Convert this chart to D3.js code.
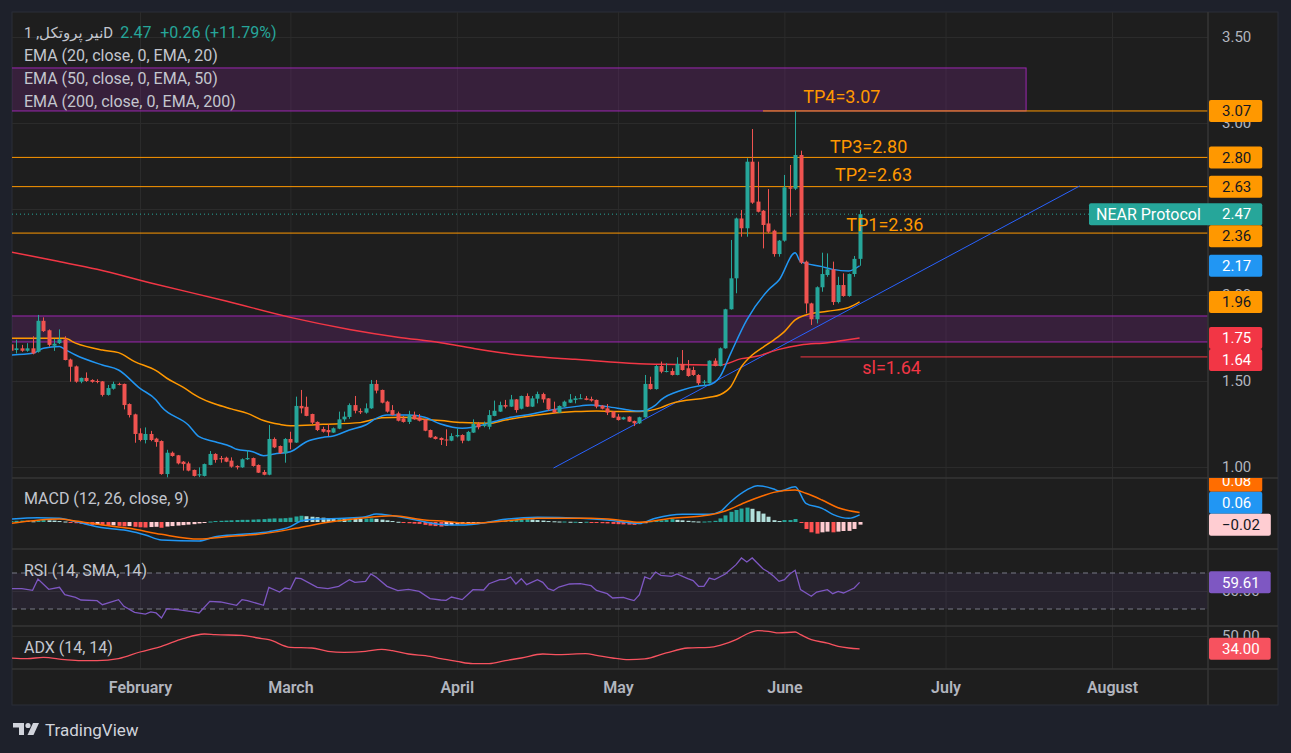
<!DOCTYPE html>
<html>
<head>
<meta charset="utf-8">
<title>NEAR Protocol 1D</title>
<script src="https://d3js.org/d3.v7.min.js"></script>
<style>
    body { margin: 0; background: #1e212b; }
    text { font-family: Roboto, "DejaVu Sans", sans-serif; }
</style>
</head>
<body>
<div id="chart"></div>
<script>
// Daily candles, first one on Jan 8
var firstDay = "2023-01-08";

var opens = [1.713,1.68,1.69,1.676,1.69,1.67,1.85,1.795,1.705,1.72,
    1.742,1.625,1.585,1.496,1.518,1.506,1.50,1.498,1.419,1.455,
    1.483,1.483,1.366,1.306,1.196,1.157,1.192,1.165,1.151,0.959,
    1.083,1.068,1.031,1.021,0.983,0.951,0.948,1.012,1.076,1.052,
    1.054,1.037,1.006,0.998,1.045,1.052,1.012,0.971,0.955,1.163,
    1.122,1.080,1.163,1.142,1.355,1.35,1.308,1.262,1.221,1.215,
    1.20,1.223,1.277,1.291,1.36,1.325,1.316,1.341,1.483,1.448,
    1.38,1.331,1.312,1.283,1.262,1.302,1.289,1.277,1.215,1.176,
    1.169,1.16,1.153,1.178,1.186,1.153,1.20,1.25,1.238,1.234,
    1.297,1.322,1.36,1.351,1.393,1.339,1.413,1.351,1.397,1.424,
    1.399,1.335,1.316,1.351,1.374,1.39,1.397,1.399,1.395,1.39,
    1.357,1.341,1.322,1.293,1.277,1.293,1.267,1.254,1.289,1.483,
    1.453,1.587,1.554,1.558,1.535,1.599,1.574,1.564,1.535,1.49,
    1.487,1.618,1.587,1.690,1.917,2.097,2.445,2.388,2.775,2.543,
    2.49,2.416,2.374,2.238,2.316,2.626,2.618,2.814,2.194,1.951,
    1.859,2.045,2.116,2.149,1.959,2.058,1.994,2.122,2.21];
var highs = [1.72,1.74,1.71,1.72,1.76,1.884,1.87,1.80,1.745,1.80,
    1.76,1.63,1.59,1.52,1.55,1.51,1.51,1.50,1.477,1.496,
    1.49,1.485,1.37,1.31,1.225,1.23,1.21,1.17,1.155,1.10,
    1.09,1.07,1.035,1.031,0.985,0.998,1.02,1.093,1.08,1.064,
    1.06,1.056,1.01,1.05,1.099,1.055,1.015,0.983,1.244,1.172,
    1.125,1.168,1.205,1.409,1.448,1.409,1.31,1.265,1.234,1.25,
    1.23,1.322,1.322,1.37,1.413,1.341,1.37,1.506,1.506,1.45,
    1.385,1.36,1.322,1.297,1.327,1.322,1.308,1.28,1.218,1.18,
    1.172,1.219,1.196,1.225,1.19,1.21,1.277,1.262,1.264,1.331,
    1.386,1.38,1.39,1.419,1.395,1.415,1.428,1.413,1.438,1.432,
    1.40,1.38,1.358,1.386,1.424,1.413,1.424,1.413,1.409,1.392,
    1.36,1.366,1.325,1.308,1.292,1.295,1.27,1.292,1.535,1.525,
    1.593,1.613,1.603,1.574,1.638,1.68,1.622,1.583,1.54,1.506,
    1.62,1.632,1.695,1.92,2.32,2.45,2.494,2.795,2.965,2.775,
    2.494,2.616,2.38,2.32,2.698,2.756,3.07,2.839,2.20,1.955,
    2.05,2.246,2.242,2.194,2.106,2.126,2.125,2.227,2.494];
var lows = [1.67,1.66,1.67,1.67,1.655,1.665,1.785,1.70,1.675,1.715,
    1.62,1.496,1.49,1.487,1.495,1.49,1.487,1.41,1.415,1.45,
    1.475,1.335,1.288,1.141,1.149,1.137,1.15,1.118,0.955,0.934,
    1.06,1.015,0.979,0.975,0.945,0.94,0.945,1.01,1.025,1.025,
    1.028,0.996,0.986,0.995,1.041,1.002,0.965,0.952,0.952,1.11,
    1.076,1.025,1.103,1.14,1.312,1.295,1.25,1.209,1.20,1.18,
    1.198,1.22,1.264,1.28,1.312,1.308,1.31,1.338,1.428,1.37,
    1.316,1.30,1.265,1.258,1.25,1.275,1.265,1.208,1.17,1.16,
    1.128,1.122,1.15,1.172,1.138,1.15,1.198,1.219,1.231,1.219,
    1.295,1.32,1.341,1.349,1.316,1.335,1.349,1.349,1.37,1.374,
    1.327,1.314,1.314,1.349,1.372,1.37,1.395,1.388,1.38,1.341,
    1.335,1.302,1.285,1.27,1.275,1.262,1.238,1.25,1.287,1.45,
    1.45,1.545,1.55,1.532,1.533,1.56,1.525,1.53,1.477,1.471,
    1.485,1.585,1.585,1.688,1.915,2.01,2.339,2.339,2.53,2.48,
    2.271,2.36,2.223,2.223,2.31,2.455,2.61,2.18,1.893,1.826,
    1.835,2.019,2.106,1.942,1.951,1.99,1.99,2.106,2.17];
var closes = [1.676,1.69,1.676,1.69,1.66,1.85,1.79,1.71,1.717,1.742,
    1.622,1.583,1.496,1.518,1.50,1.495,1.497,1.419,1.459,1.483,
    1.48,1.36,1.302,1.192,1.157,1.192,1.157,1.145,0.959,1.083,
    1.064,1.021,1.017,0.979,0.948,0.958,1.017,1.076,1.041,1.045,
    1.031,1.002,0.998,1.045,1.052,1.006,0.967,0.955,1.163,1.114,
    1.080,1.163,1.142,1.355,1.341,1.297,1.258,1.215,1.205,1.202,
    1.225,1.277,1.293,1.36,1.327,1.318,1.341,1.483,1.444,1.374,
    1.322,1.302,1.269,1.262,1.302,1.277,1.269,1.211,1.172,1.163,
    1.157,1.157,1.18,1.186,1.153,1.204,1.25,1.231,1.244,1.302,
    1.327,1.36,1.351,1.393,1.331,1.413,1.351,1.399,1.424,1.393,
    1.335,1.316,1.355,1.38,1.393,1.399,1.40,1.39,1.386,1.351,
    1.339,1.316,1.287,1.273,1.289,1.264,1.254,1.289,1.483,1.453,
    1.587,1.554,1.558,1.535,1.599,1.564,1.529,1.535,1.487,1.496,
    1.618,1.587,1.690,1.917,2.097,2.445,2.388,2.775,2.537,2.484,
    2.407,2.368,2.238,2.316,2.626,2.618,2.814,2.188,1.951,1.859,
    2.045,2.122,2.149,1.959,2.058,1.994,2.122,2.21,2.47];

// Moving averages: [day index, value]
var ema20 = [[0,1.651],[4,1.661],[6,1.69],[9,1.70],[10,1.684],[12,1.651],[17,1.593],[20,1.564],
    [24,1.457],[27,1.39],[28,1.35],[33,1.244],[35,1.176],[38,1.147],[41,1.118],[42,1.103],
    [45,1.089],[47,1.066],[49,1.076],[52,1.089],[55,1.147],[58,1.172],[60,1.18],[63,1.215],
    [66,1.244],[68,1.283],[70,1.302],[74,1.302],[77,1.289],[80,1.25],[84,1.225],[86,1.231],
    [90,1.264],[93,1.289],[97,1.308],[100,1.328],[105,1.351],[108,1.36],[111,1.351],[115,1.331],
    [117,1.325],[120,1.36],[121,1.39],[125,1.448],[128,1.471],[130,1.477],[132,1.525],
    [134,1.661],[137,1.855],[141,2.029],[143,2.087],[146,2.246],[147,2.194],[151,2.165],
    [153,2.149],[156,2.14],[158,2.17]];
var ema50 = [[0,1.748],[10,1.748],[12,1.72],[17,1.68],[20,1.665],[23,1.613],[27,1.56],[29,1.516],
    [32,1.464],[35,1.405],[38,1.366],[41,1.338],[44,1.312],[47,1.27],[50,1.248],[52,1.24],
    [58,1.248],[65,1.258],[67,1.273],[69,1.287],[73,1.289],[77,1.277],[80,1.27],[84,1.258],
    [89,1.254],[92,1.273],[98,1.302],[105,1.322],[109,1.326],[114,1.322],[117,1.322],
    [121,1.345],[123,1.37],[130,1.405],[132,1.42],[134,1.467],[136,1.583],[138,1.651],
    [140,1.696],[142,1.738],[144,1.787],[146,1.855],[148,1.884],[152,1.905],[156,1.928],[158,1.96]];
var ema200 = [[0,2.25],[8,2.20],[16,2.15],[26,2.07],[40,1.965],[52,1.87],[63,1.80],[72,1.755],
    [80,1.723],[86,1.69],[92,1.661],[98,1.641],[105,1.626],[111,1.612],[117,1.60],[121,1.597],
    [132,1.593],[136,1.63],[139,1.645],[143,1.684],[147,1.709],[152,1.723],[158,1.75]];

// MACD (12, 26, close, 9)
var macdHist = [0.008,0.010,0.012,0.010,0.006,0.012,0.016,0.014,0.012,0.008,0.004,
    -0.004,-0.010,-0.016,-0.020,-0.024,-0.022,
    -0.026,-0.030,-0.028,-0.032,-0.036,-0.034,
    -0.040,-0.044,-0.046,-0.042,-0.040,-0.048,
    -0.038,-0.034,-0.030,-0.026,-0.022,-0.018,-0.012,-0.006,
    0.004,0.008,0.010,0.012,0.014,0.016,0.018,0.018,0.020,0.022,0.024,
    0.028,0.030,0.030,0.032,0.036,0.046,0.052,0.048,
    0.044,0.040,0.036,0.032,0.030,0.030,0.028,0.030,0.028,0.026,0.028,0.030,0.026,0.020,0.014,
    0.008,0.002,-0.004,-0.010,-0.014,-0.016,-0.024,-0.030,-0.034,-0.038,-0.030,-0.026,
    -0.020,-0.016,-0.012,-0.010,-0.006,-0.002,
    0.004,0.008,0.010,0.012,0.014,0.016,0.020,0.024,0.020,0.016,
    0.012,0.008,0.006,0.004,0.004,0.002,0.002,0.000,0.002,
    -0.004,-0.006,-0.010,-0.012,-0.016,-0.018,-0.020,-0.022,-0.024,-0.018,
    -0.010,
    0.006,0.010,0.014,0.018,0.024,0.018,0.014,0.010,0.006,0.004,0.004,0.006,0.010,
    0.030,0.055,0.085,0.100,0.112,0.120,
    0.110,0.090,0.070,0.044,0.015,
    0.008,0.016,0.016,0.025,
    -0.008,
    -0.058,-0.086,-0.097,-0.086,-0.080,-0.086,-0.080,-0.075,-0.074,-0.058,-0.022];
var macdLine = [[0,0.025],[5,0.036],[9,0.031],[12,0.003],[16,-0.039],[18,-0.053],[22,-0.075],
    [25,-0.108],[28,-0.15],[35,-0.158],[38,-0.122],[43,-0.103],[48,-0.081],[52,-0.039],[54,0.008],
    [57,0.025],[62,0.031],[66,0.044],[68,0.067],[71,0.053],[77,0.003],[80,-0.02],[84,-0.025],
    [87,-0.014],[92,0.022],[98,0.039],[106,0.031],[111,0.017],[117,-0.011],[120,0.031],[125,0.064],
    [130,0.064],[132,0.086],[134,0.169],[137,0.267],[139,0.303],[142,0.275],[143,0.258],[146,0.294],
    [148,0.156],[151,0.114],[153,0.064],[156,0.031],[158,0.06]];
var signalLine = [[0,-0.011],[9,0.025],[12,0.008],[17,-0.025],[22,-0.053],[28,-0.103],[35,-0.142],
    [40,-0.122],[46,-0.103],[53,-0.053],[59,-0.003],[65,0.031],[71,0.053],[77,0.017],[81,0.005],
    [85,-0.011],[92,0.008],[98,0.031],[108,0.031],[113,0.017],[117,-0.003],[123,0.031],[130,0.058],
    [133,0.092],[137,0.169],[140,0.219],[142,0.247],[146,0.267],[148,0.239],[151,0.183],[154,0.119],
    [158,0.08]];

// RSI (14, SMA, 14)
var rsi = [[0,52.6],[2,52.6],[4,50.7],[5,63.3],[7,51.9],[9,54.1],[10,45.9],[12,43],[13,40],[16,39.3],
    [17,34.8],[20,40.4],[21,33],[23,26.3],[25,24.4],[26,26.7],[27,25.6],[28,20],[29,30.4],[31,29.3],
    [34,26.7],[35,25.6],[37,38.5],[39,37.8],[42,34.1],[43,40.4],[44,39.3],[47,34.1],[48,54.1],
    [50,48.9],[51,53.3],[52,52.2],[53,64.4],[54,63.7],[57,54.1],[59,52.6],[61,55.2],[62,58.9],
    [63,62.6],[64,59.6],[66,60.7],[67,68.9],[68,65.2],[70,55.2],[72,50.4],[74,51.9],[76,49.6],
    [78,41.5],[80,40],[81,39.6],[82,43.3],[84,40.4],[86,51.5],[88,51.1],[89,58.1],[91,62.6],
    [92,62.6],[93,65.6],[94,57.8],[95,63.7],[96,57],[98,62.6],[99,59.6],[100,52.6],[101,50.4],
    [102,54.4],[104,57.8],[106,58.1],[108,55.9],[109,50.7],[111,47],[112,42.2],[114,43],[115,41.1],
    [116,39.3],[117,45.9],[118,65.6],[119,63.3],[120,71.1],[121,67.4],[123,66.3],[124,68.9],
    [126,63.7],[127,61.5],[128,55.2],[129,55.2],[130,64.4],[131,62.6],[133,68.9],[135,79.3],
    [136,86.7],[137,82.2],[138,86.7],[140,74.8],[141,71.1],[142,66.3],[143,60.7],[144,62.6],
    [145,68.9],[146,73],[147,51.5],[149,44.1],[150,48.9],[152,51.5],[153,47],[154,49.6],[155,47.8],
    [157,53.3],[158,59.61]];

// ADX (14, 14)
var adx = [[0,22.5],[3,21.7],[6,23.3],[10,20.4],[13,19.2],[16,19.2],[20,21.7],[24,30],[28,37.1],
    [32,46.7],[36,52.5],[38,51.7],[43,50.8],[46,47.5],[48,45.4],[52,35.8],[56,35],[59,30.8],
    [62,29.6],[66,30.8],[69,33.3],[71,31.7],[74,27.5],[78,24.6],[80,21.7],[83,18.3],[86,15.4],
    [89,15.4],[92,19.2],[95,22.5],[99,27.5],[102,26.7],[107,27.9],[109,25.8],[112,22.5],[115,20.4],
    [118,21.3],[122,28.8],[126,35],[130,35.8],[132,38.3],[135,45.4],[137,52.5],[139,56.7],
    [141,55.8],[143,53.8],[146,55],[147,51.7],[149,45.4],[152,41.2],[154,37.1],[156,35],[158,34.0]];

// Levels and drawings
var months = ["2023-02-01","2023-03-01","2023-04-01","2023-05-01","2023-06-01","2023-07-01","2023-08-01"];
var priceGrid = [1, 1.5, 2, 2.5, 3, 3.5];
var priceTicks = [1, 1.5, 2, 3, 3.5];   // 2.50 sits under the last-price label
var targets = [
    {name: "TP4", price: 3.07, from: 140, textDay: 147.5, dy: -8},
    {name: "TP3", price: 2.80, from: -5, textDay: 152.5, dy: -4},
    {name: "TP2", price: 2.63, from: -5, textDay: 153.4, dy: -6},
    {name: "TP1", price: 2.36, from: -5, textDay: 155.5, dy: -2}
];
var stopLoss = {name: "sl", price: 1.64, from: 147, textDay: 158.5, dy: 17};
var zones = [
    {from: -5, to: 189, low: 3.07, high: 3.32},
    {from: -5, to: 260, low: 1.727, high: 1.878}
];
var trendLine = [[101, 0.994], [199, 2.634]];

// Colours
var upColor = "#26a69a", downColor = "#ef5350";
var orange = "#ff9800", blue = "#2196f3", red = "#f23645";
var axisText = "#b2b5be", legendText = "#c3c6ce";

// Layout
var W = 1291, H = 753;
var left = 12, right = 1208, axisEnd = 1278;
var mainPane = [12, 478], macdPane = [478, 549], rsiPane = [549, 626], adxPane = [626, 669];
var timeBottom = 705;

var parseDay = d3.utcParse("%Y-%m-%d");
var start = parseDay(firstDay);
function dayOf(i) { return new Date(start.getTime() + i * 864e5); }

var x = d3.scaleUtc()
    .domain([parseDay("2023-02-01"), parseDay("2023-08-01")])
    .range([140, 1112]);
var yPrice = d3.scaleLinear().domain([1, 3.5]).range([467, 37]);
var yMacd = d3.scaleLinear().domain([0, 0.1]).range([522, 510]);
var yRsi = d3.scaleLinear().domain([30, 70]).range([609, 573]);
var yAdx = d3.scaleLinear().domain([0, 50]).range([676, 636]);

var candles = closes.map(function(c, i) {
    return {date: dayOf(i), o: opens[i], h: highs[i], l: lows[i], c: c};
});

var svg = d3.select("#chart").append("svg")
    .attr("width", W).attr("height", H);

svg.append("rect").attr("width", W).attr("height", H).attr("fill", "#1e212b");
svg.append("rect").attr("x", left).attr("y", 12)
    .attr("width", axisEnd - left).attr("height", timeBottom - 12)
    .attr("fill", "#1e1e1e").attr("stroke", "#2a2e39");

var defs = svg.append("defs");
function addClip(id, x0, y0, x1, y1) {
    defs.append("clipPath").attr("id", id).append("rect")
        .attr("x", x0).attr("y", y0).attr("width", x1 - x0).attr("height", y1 - y0);
}
addClip("clip-main", left, mainPane[0], right, mainPane[1]);
addClip("clip-macd", left, macdPane[0], right, macdPane[1]);
addClip("clip-rsi", left, rsiPane[0], right, rsiPane[1]);
addClip("clip-adx", left, adxPane[0], right, adxPane[1]);
addClip("clip-main-axis", left, mainPane[0], axisEnd, mainPane[1]);
addClip("clip-macd-axis", right, macdPane[0], axisEnd, macdPane[1]);
addClip("clip-rsi-axis", right, rsiPane[0], axisEnd, rsiPane[1]);
addClip("clip-adx-axis", right, adxPane[0], axisEnd, adxPane[1]);

// Grid
var gridColor = "#2b2b2b";
var monthDates = months.map(parseDay);
svg.append("g")
    .attr("transform", "translate(0," + adxPane[1] + ")")
    .call(d3.axisBottom(x).tickValues(monthDates).tickSize(-(adxPane[1] - 12)).tickFormat(""))
    .call(function(g) { g.select(".domain").remove(); })
    .selectAll("line").attr("stroke", gridColor);

svg.append("g")
    .attr("transform", "translate(" + left + ",0)")
    .call(d3.axisRight(yPrice).tickValues(priceGrid).tickSize(right - left).tickFormat(""))
    .call(function(g) { g.select(".domain").remove(); })
    .selectAll("line").attr("stroke", gridColor);

svg.append("g")
    .attr("transform", "translate(" + left + ",0)")
    .call(d3.axisRight(yRsi).tickValues([50]).tickSize(right - left).tickFormat(""))
    .call(function(g) { g.select(".domain").remove(); })
    .selectAll("line").attr("stroke", gridColor);

svg.append("g")
    .attr("transform", "translate(" + left + ",0)")
    .call(d3.axisRight(yAdx).tickValues([50]).tickSize(right - left).tickFormat(""))
    .call(function(g) { g.select(".domain").remove(); })
    .selectAll("line").attr("stroke", gridColor);

// ---------- Main pane ----------
var main = svg.append("g").attr("clip-path", "url(#clip-main)");

main.selectAll(".zone").data(zones).join("rect")
    .attr("x", function(d) { return x(dayOf(d.from)); })
    .attr("width", function(d) { return x(dayOf(d.to)) - x(dayOf(d.from)); })
    .attr("y", function(d) { return yPrice(d.high); })
    .attr("height", function(d) { return yPrice(d.low) - yPrice(d.high); })
    .attr("fill", "rgba(156, 39, 176, 0.2)")
    .attr("stroke", "#9c27b0")
    .attr("stroke-width", 1);

// target lines
main.selectAll(".tp").data(targets).join("line")
    .attr("x1", function(d) { return x(dayOf(d.from)); })
    .attr("x2", right)
    .attr("y1", function(d) { return yPrice(d.price); })
    .attr("y2", function(d) { return yPrice(d.price); })
    .attr("stroke", orange).attr("stroke-width", 1);

main.append("line")
    .attr("x1", x(dayOf(stopLoss.from))).attr("x2", right)
    .attr("y1", yPrice(stopLoss.price)).attr("y2", yPrice(stopLoss.price))
    .attr("stroke", red).attr("stroke-width", 1);

// last price dotted line
main.append("line")
    .attr("x1", left).attr("x2", 1089)
    .attr("y1", yPrice(closes[closes.length - 1])).attr("y2", yPrice(closes[closes.length - 1]))
    .attr("stroke", upColor).attr("stroke-dasharray", "1,3");

// trend line
main.append("line")
    .attr("x1", x(dayOf(trendLine[0][0]))).attr("y1", yPrice(trendLine[0][1]))
    .attr("x2", x(dayOf(trendLine[1][0]))).attr("y2", yPrice(trendLine[1][1]))
    .attr("stroke", "#2962ff").attr("stroke-width", 1);

// EMAs
var priceLine = d3.line()
    .x(function(d) { return x(dayOf(d[0])); })
    .y(function(d) { return yPrice(d[1]); })
    .curve(d3.curveMonotoneX);

main.append("path").datum(ema200).attr("d", priceLine)
    .attr("fill", "none").attr("stroke", red).attr("stroke-width", 1.5);
main.append("path").datum(ema50).attr("d", priceLine)
    .attr("fill", "none").attr("stroke", orange).attr("stroke-width", 1.5);
main.append("path").datum(ema20).attr("d", priceLine)
    .attr("fill", "none").attr("stroke", blue).attr("stroke-width", 1.5);

// candles
function candleColor(d) { return d.c >= d.o ? upColor : downColor; }
main.selectAll(".wick").data(candles).join("line")
    .attr("x1", function(d) { return Math.round(x(d.date)) + 0.5; })
    .attr("x2", function(d) { return Math.round(x(d.date)) + 0.5; })
    .attr("y1", function(d) { return yPrice(d.h); })
    .attr("y2", function(d) { return yPrice(d.l); })
    .attr("stroke", candleColor);
main.selectAll(".body").data(candles).join("rect")
    .attr("x", function(d) { return Math.round(x(d.date)) - 1.5; })
    .attr("width", 4)
    .attr("y", function(d) { return yPrice(Math.max(d.o, d.c)); })
    .attr("height", function(d) { return Math.max(1, Math.abs(yPrice(d.o) - yPrice(d.c))); })
    .attr("fill", candleColor);

// target texts
var notes = targets.concat([stopLoss]);
main.selectAll(".note").data(notes).join("text")
    .attr("x", function(d) { return x(dayOf(d.textDay)); })
    .attr("y", function(d) { return yPrice(d.price) + d.dy; })
    .attr("fill", function(d) { return d.name === "sl" ? red : orange; })
    .attr("font-size", 18)
    .text(function(d) { return d.name + "=" + d.price.toFixed(2); });

// ---------- MACD pane ----------
var macdG = svg.append("g").attr("clip-path", "url(#clip-macd)");
macdG.selectAll(".hist").data(macdHist).join("rect")
    .attr("x", function(d, i) { return Math.round(x(dayOf(i))) - 1.5; })
    .attr("width", 4)
    .attr("y", function(d) { return Math.min(yMacd(d), yMacd(0)); })
    .attr("height", function(d) { return Math.max(1, Math.abs(yMacd(d) - yMacd(0))); })
    .attr("fill", function(d, i) {
        var prev = i > 0 ? macdHist[i - 1] : d;
        if (d >= 0) return d >= prev ? "#26a69a" : "#b2dfdb";
        return d <= prev ? "#ff5252" : "#ffcdd2";
    });

var macdPath = d3.line()
    .x(function(d) { return x(dayOf(d[0])); })
    .y(function(d) { return yMacd(d[1]); })
    .curve(d3.curveMonotoneX);
macdG.append("path").datum(macdLine).attr("d", macdPath)
    .attr("fill", "none").attr("stroke", blue).attr("stroke-width", 1.5);
macdG.append("path").datum(signalLine).attr("d", macdPath)
    .attr("fill", "none").attr("stroke", "#ff6d00").attr("stroke-width", 1.5);

// ---------- RSI pane ----------
var rsiG = svg.append("g").attr("clip-path", "url(#clip-rsi)");
rsiG.append("rect")
    .attr("x", left).attr("width", right - left)
    .attr("y", yRsi(70)).attr("height", yRsi(30) - yRsi(70))
    .attr("fill", "rgba(126, 87, 194, 0.1)");
rsiG.selectAll(".band").data([70, 30]).join("line")
    .attr("x1", left).attr("x2", right)
    .attr("y1", function(d) { return yRsi(d); })
    .attr("y2", function(d) { return yRsi(d); })
    .attr("stroke", "#787b86").attr("stroke-dasharray", "5,4");
rsiG.append("path").datum(rsi)
    .attr("d", d3.line()
        .x(function(d) { return x(dayOf(d[0])); })
        .y(function(d) { return yRsi(d[1]); }))
    .attr("fill", "none").attr("stroke", "#7e57c2").attr("stroke-width", 1.3);

// ---------- ADX pane ----------
var adxG = svg.append("g").attr("clip-path", "url(#clip-adx)");
adxG.append("path").datum(adx)
    .attr("d", d3.line()
        .x(function(d) { return x(dayOf(d[0])); })
        .y(function(d) { return yAdx(d[1]); })
        .curve(d3.curveMonotoneX))
    .attr("fill", "none").attr("stroke", "#f7525f").attr("stroke-width", 1.3);

// ---------- Separators ----------
var sep = "#363636";
svg.selectAll(".sep").data([macdPane[0], rsiPane[0], adxPane[0], adxPane[1]]).join("line")
    .attr("x1", left).attr("x2", axisEnd)
    .attr("y1", function(d) { return d; }).attr("y2", function(d) { return d; })
    .attr("stroke", sep).attr("stroke-width", 1.5);
svg.append("line")
    .attr("x1", right).attr("x2", right).attr("y1", 12).attr("y2", timeBottom)
    .attr("stroke", sep).attr("stroke-width", 1.5);

// ---------- Axes ----------
var axisSize = 15;
function styleAxis(g) {
    g.select(".domain").remove();
    g.selectAll("text").attr("fill", axisText).attr("font-size", axisSize);
}
svg.append("g").attr("clip-path", "url(#clip-main-axis)")
    .append("g").attr("transform", "translate(" + right + ",0)")
    .call(d3.axisRight(yPrice).tickValues(priceTicks).tickSize(0).tickPadding(14).tickFormat(d3.format(".2f")))
    .call(styleAxis);
svg.append("g").attr("transform", "translate(" + right + ",0)")
    .call(d3.axisRight(yRsi).tickValues([50]).tickSize(0).tickPadding(14).tickFormat(d3.format(".2f")))
    .call(styleAxis);
svg.append("g").attr("transform", "translate(" + right + ",0)")
    .call(d3.axisRight(yAdx).tickValues([50]).tickSize(0).tickPadding(14).tickFormat(d3.format(".2f")))
    .call(styleAxis);

svg.append("g").attr("transform", "translate(0," + adxPane[1] + ")")
    .call(d3.axisBottom(x).tickValues(monthDates).tickSize(0).tickPadding(13).tickFormat(d3.utcFormat("%B")))
    .call(function(g) {
        g.select(".domain").remove();
        g.selectAll("text").attr("fill", axisText).attr("font-size", 16).attr("font-weight", 600);
    });

// ---------- Value labels on the right axis ----------
var fmt = d3.format(".2f");
function placeLabels(items, dir, h) {
    var sorted = items.slice().sort(function(a, b) { return a.y - b.y; });
    if (dir === "down") {
        for (var i = 1; i < sorted.length; i++)
            if (sorted[i].y - sorted[i - 1].y < h) sorted[i].y = sorted[i - 1].y + h;
    } else {
        for (var j = sorted.length - 2; j >= 0; j--)
            if (sorted[j + 1].y - sorted[j].y < h) sorted[j].y = sorted[j + 1].y - h;
    }
    return sorted;
}
function drawLabels(clipId, items) {
    var g = svg.append("g").attr("clip-path", "url(#" + clipId + ")");
    items.forEach(function(d) {
        var lg = g.append("g");
        var box = lg.append("rect").attr("fill", d.bg).attr("rx", 2);
        var t = lg.append("text").attr("x", right + 14).attr("y", d.y).attr("dy", "0.35em")
            .attr("font-size", axisSize).attr("fill", d.fg).text(fmt(d.v));
        var w = t.node().getComputedTextLength() + 24;
        var x0 = right + 1;
        if (d.name) {
            x0 = 1089;
            lg.append("text").attr("x", x0 + 7).attr("y", d.y).attr("dy", "0.35em")
                .attr("font-size", 16).attr("fill", d.fg).text(d.name);
        }
        box.attr("x", x0).attr("y", d.y - 11).attr("height", 22)
            .attr("width", right + 1 + w - x0);
    });
}
var dark = "#131722", white = "#ffffff";
var mainLabels = [
    {v: targets[0].price, bg: orange, fg: dark},
    {v: targets[1].price, bg: orange, fg: dark},
    {v: targets[2].price, bg: orange, fg: dark},
    {v: closes[closes.length - 1], bg: upColor, fg: white, name: "NEAR Protocol"},
    {v: targets[3].price, bg: orange, fg: dark},
    {v: ema20[ema20.length - 1][1], bg: blue, fg: white},
    {v: ema50[ema50.length - 1][1], bg: orange, fg: dark},
    {v: ema200[ema200.length - 1][1], bg: red, fg: white},
    {v: stopLoss.price, bg: red, fg: white}
];
mainLabels.forEach(function(d) { d.y = yPrice(d.v); });
drawLabels("clip-main-axis", placeLabels(mainLabels, "down", 22));

var macdLabels = [
    {v: signalLine[signalLine.length - 1][1], bg: "#ff6d00", fg: white},
    {v: macdLine[macdLine.length - 1][1], bg: blue, fg: white},
    {v: macdHist[macdHist.length - 1], bg: "#ffcdd2", fg: dark}
];
macdLabels.forEach(function(d) { d.y = yMacd(d.v); });
drawLabels("clip-macd-axis", placeLabels(macdLabels, "up", 22));

var rsiLabels = [{v: rsi[rsi.length - 1][1], bg: "#7e57c2", fg: white, y: yRsi(rsi[rsi.length - 1][1])}];
drawLabels("clip-rsi-axis", rsiLabels);
var adxLabels = [{v: adx[adx.length - 1][1], bg: "#f7525f", fg: white, y: yAdx(adx[adx.length - 1][1])}];
drawLabels("clip-adx-axis", adxLabels);

// ---------- Legends ----------
var legend = svg.append("g").attr("font-size", 16).attr("fill", legendText);
var title = legend.append("text").attr("x", 24).attr("y", 38)
    .attr("font-size", 15).text("نیر پروتکل, 1D");
var titleEnd = 24 + title.node().getComputedTextLength();
var change = legend.append("text").attr("y", 38).attr("fill", upColor);
var priceX = Math.max(118, titleEnd + 7);
change.append("tspan").attr("x", priceX).text("2.47");
change.append("tspan").attr("x", priceX + 40).text("+0.26 (+11.79%)");
legend.append("text").attr("x", 24).attr("y", 61).text("EMA (20, close, 0, EMA, 20)");
legend.append("text").attr("x", 24).attr("y", 84).text("EMA (50, close, 0, EMA, 50)");
legend.append("text").attr("x", 24).attr("y", 107).text("EMA (200, close, 0, EMA, 200)");
legend.append("text").attr("x", 24).attr("y", 504).text("MACD (12, 26, close, 9)");
legend.append("text").attr("x", 24).attr("y", 576).text("RSI (14, SMA, 14)");
legend.append("text").attr("x", 24).attr("y", 653).text("ADX (14, 14)");

// ---------- Watermark ----------
var logo = svg.append("g").attr("fill", "#d1d4dc");
logo.append("path").attr("d", "M13,723 H24 V735 H19 V727.5 H13 Z");
logo.append("circle").attr("cx", 28).attr("cy", 725.5).attr("r", 2.6);
logo.append("path").attr("d", "M33,723 H39 L33.5,735 H27.5 Z");
svg.append("text").attr("x", 45).attr("y", 736)
    .attr("font-size", 17).attr("fill", "#d1d4dc").text("TradingView");
</script>
</body>
</html>
